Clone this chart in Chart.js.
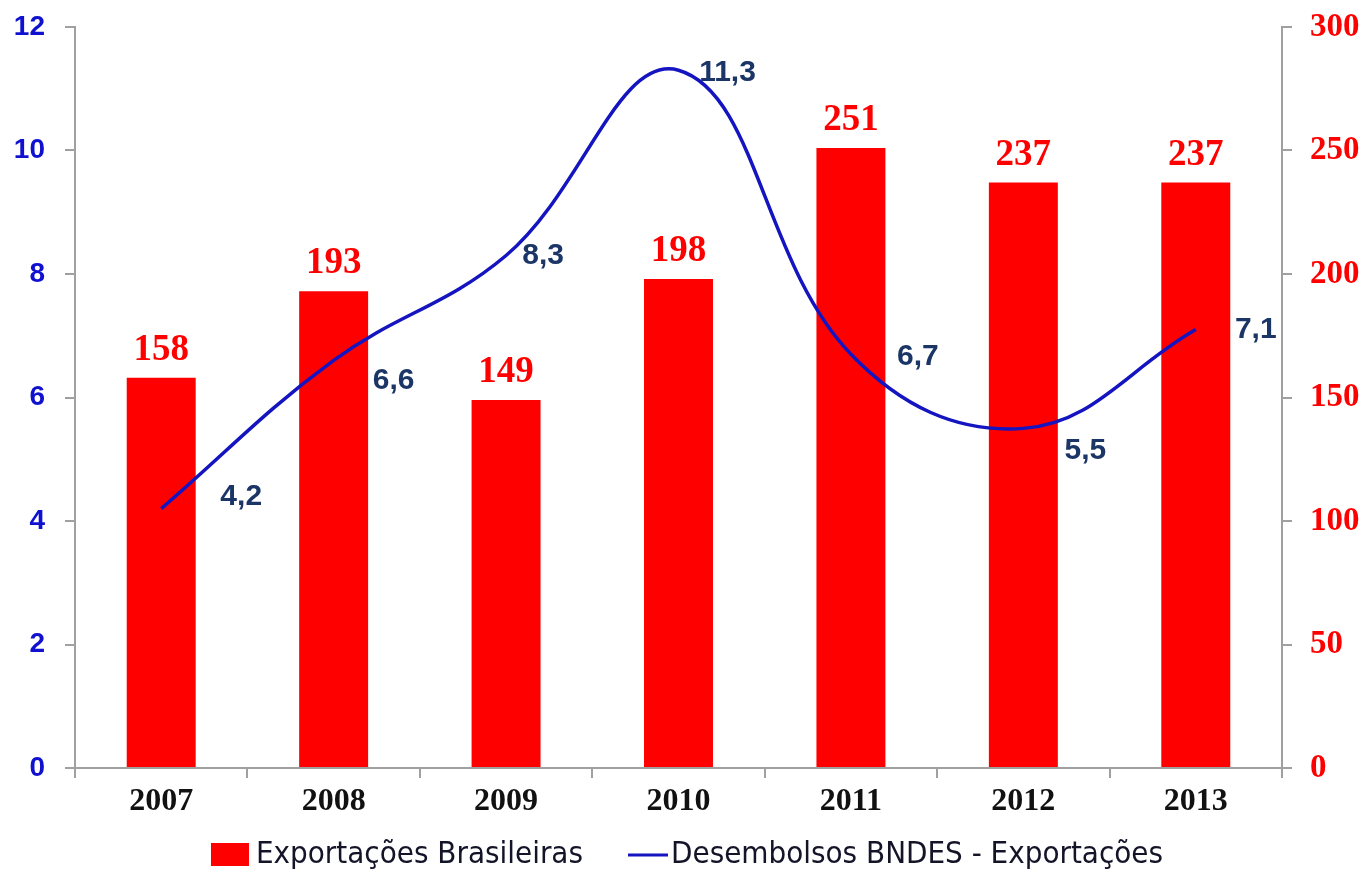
<!DOCTYPE html>
<html><head><meta charset="utf-8">
<script src="https://cdn.jsdelivr.net/npm/chart.js@4"></script>
<style>html,body{margin:0;padding:0;background:#fff}#wrap{width:1367px;height:871px}</style>
</head><body><div id="wrap"><canvas id="c" width="1367" height="871"></canvas></div>
<script>
const categories = ['2007','2008','2009','2010','2011','2012','2013'];
const exportacoes = [158,193,149,198,251,237,237];
const desembolsos = [4.2,6.6,8.3,11.3,6.7,5.5,7.1];
const leftTicks = [0,2,4,6,8,10,12];
const rightTicks = [0,50,100,150,200,250,300];
const seriesNames = ['Exportações Brasileiras','Desembolsos BNDES - Exportações'];
// label placement offsets (style only, pixels)
const lineLabelOffsets = [[80,-12],[60,20],[37,0],[49,3],[67,2],[62,22],[60,0]];

const AXIS = '#a0a0a0';
const RED = '#ff0000';
const BLUE = '#1414c0';
const fmt = v => String(v).replace('.', ',');

const labelPlugin = {
  id: 'labels',
  afterDatasetsDraw(chart) {
    const ctx = chart.ctx;
    ctx.save();
    const barMeta = chart.getDatasetMeta(0);
    ctx.font = 'bold 37px "Liberation Serif"';
    ctx.fillStyle = RED;
    ctx.textAlign = 'center';
    ctx.textBaseline = 'alphabetic';
    barMeta.data.forEach((el, i) => {
      ctx.fillText(String(exportacoes[i]), el.x, el.y - 18);
    });
    const lineMeta = chart.getDatasetMeta(1);
    ctx.font = 'bold 30px "Liberation Sans"';
    ctx.fillStyle = '#1b3566';
    ctx.textBaseline = 'middle';
    lineMeta.data.forEach((el, i) => {
      const o = lineLabelOffsets[i];
      ctx.fillText(fmt(desembolsos[i]), el.x + o[0], el.y + o[1]);
    });
    ctx.restore();
  }
};

const legendPlugin = {
  id: 'customLegend',
  afterDraw(chart) {
    const ctx = chart.ctx;
    ctx.save();
    ctx.font = '31px "Liberation Sans Narrow", "DejaVu Sans Condensed", sans-serif';
    const w1 = ctx.measureText(seriesNames[0]).width;
    const w2 = ctx.measureText(seriesNames[1]).width;
    const total = 38 + 7 + w1 + 45 + 40 + 3 + w2;
    let x = 687 - total / 2;
    const y = 855;
    ctx.fillStyle = RED;
    ctx.fillRect(x, y - 12, 38, 23);
    x += 38 + 7;
    ctx.fillStyle = '#141428';
    ctx.textBaseline = 'middle';
    ctx.textAlign = 'left';
    ctx.fillText(seriesNames[0], x, y);
    x += w1 + 45;
    ctx.strokeStyle = BLUE;
    ctx.lineWidth = 3;
    ctx.beginPath(); ctx.moveTo(x, y); ctx.lineTo(x + 40, y); ctx.stroke();
    x += 43;
    ctx.fillText(seriesNames[1], x, y);
    ctx.restore();
  }
};

const gridOpts = { display: true, drawOnChartArea: false, tickLength: 10, color: AXIS, lineWidth: 2 };

new Chart(document.getElementById('c'), {
  data: {
    labels: categories,
    datasets: [
      { type: 'bar', label: seriesNames[0], data: exportacoes, yAxisID: 'y1',
        backgroundColor: RED, barPercentage: 0.4, categoryPercentage: 1.0, order: 1 },
      { type: 'line', label: seriesNames[1], data: desembolsos, yAxisID: 'y',
        borderColor: BLUE, borderWidth: 3.5, tension: 0.4, pointRadius: 0, fill: false, order: 0 }
    ]
  },
  options: {
    responsive: false,
    animation: false,
    devicePixelRatio: 1,
    layout: { padding: { top: 27, bottom: 35, left: 0, right: 0 } },
    plugins: { legend: { display: false }, tooltip: { enabled: false } },
    scales: {
      x: {
        offset: true,
        grid: Object.assign({}, gridOpts, { offset: true }),
        border: { color: AXIS, width: 2 },
        ticks: { font: { family: 'Liberation Serif', weight: 'bold', size: 32 }, color: '#111', padding: 5 },
        afterFit: s => { s.height = 68; s.paddingLeft = 0; s.paddingRight = 0; }
      },
      y: {
        position: 'left', min: 0, max: 12,
        grid: gridOpts,
        border: { color: AXIS, width: 2 },
        ticks: { stepSize: 2, font: { family: 'Liberation Sans', weight: 'bold', size: 28 }, color: '#1010d0', padding: 20,
          callback: (v) => leftTicks.includes(v) ? String(v) : '' },
        afterFit: s => { s.width = 75; s.paddingTop = 0; s.paddingBottom = 0; }
      },
      y1: {
        position: 'right', min: 0, max: 300,
        grid: gridOpts,
        border: { color: AXIS, width: 2 },
        ticks: { stepSize: 50, font: { family: 'Liberation Serif', weight: 'bold', size: 33 }, color: RED, padding: 18,
          callback: (v) => rightTicks.includes(v) ? String(v) : '' },
        afterFit: s => { s.width = 85; s.paddingTop = 0; s.paddingBottom = 0; }
      }
    }
  },
  plugins: [labelPlugin, legendPlugin]
});
</script></body></html>
